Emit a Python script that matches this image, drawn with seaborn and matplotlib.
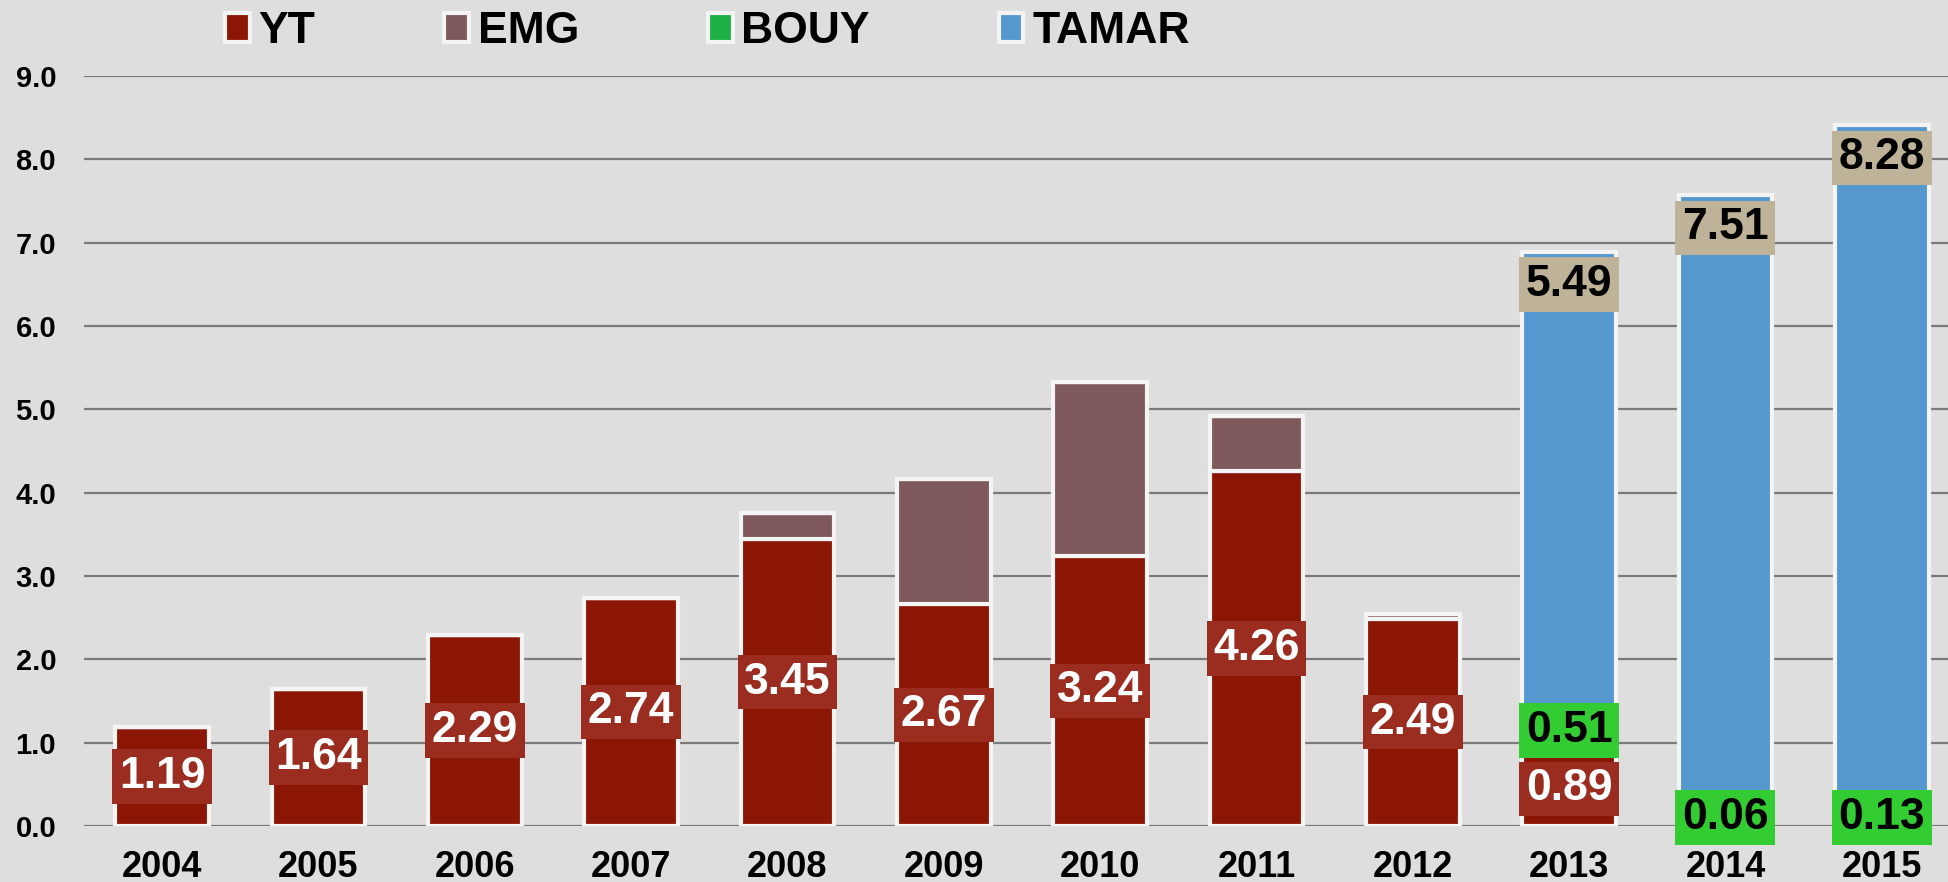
import numpy as np
import pandas as pd
import matplotlib
matplotlib.use("Agg")
import matplotlib.pyplot as plt
import seaborn as sns
from matplotlib.patches import Patch

# values
years = ["2004", "2005", "2006", "2007", "2008", "2009", "2010", "2011", "2012", "2013", "2014", "2015"]
yt = [1.19, 1.64, 2.29, 2.74, 3.45, 2.67, 3.24, 4.26, 2.49, 0.89, 0.0, 0.0]
emg = [0.0, 0.0, 0.0, 0.0, 0.31, 1.49, 2.09, 0.66, 0.05, 0.0, 0.0, 0.0]
bouy = [0.0, 0.0, 0.0, 0.0, 0.0, 0.0, 0.0, 0.0, 0.0, 0.51, 0.06, 0.13]
tamar = [0.0, 0.0, 0.0, 0.0, 0.0, 0.0, 0.0, 0.0, 0.0, 5.49, 7.51, 8.28]
series = ["YT", "EMG", "BOUY", "TAMAR"]
y_ticks = [0, 1, 2, 3, 4, 5, 6, 7, 8, 9]

colors = {"YT": "#8C1604", "EMG": "#7E585A", "BOUY": "#1DB043", "TAMAR": "#5597CF"}
label_box = {"YT": "#9B2C20", "BOUY": "#33CC33", "TAMAR": "#BEB399"}
label_txt = {"YT": "white", "BOUY": "black", "TAMAR": "black"}

df = pd.DataFrame({"year": years, "YT": yt, "EMG": emg, "BOUY": bouy, "TAMAR": tamar})

sns.set_style("white")
plt.rcParams["font.family"] = ["Liberation Sans", "DejaVu Sans"]
plt.rcParams["font.weight"] = "bold"
plt.rcParams["text.color"] = "black"
plt.rcParams["xtick.color"] = "black"
plt.rcParams["ytick.color"] = "black"

fig = plt.figure(figsize=(19.49, 8.82), dpi=100)
fig.patch.set_facecolor("#DEDEDE")
ax = fig.add_axes([0.0431, 0.0635, 0.9569, 0.8503])
ax.set_facecolor("#DEDEDE")

bottom = np.zeros(len(years))
for s in series:
    sns.barplot(data=df, x="year", y=s, bottom=bottom, color=colors[s], width=0.6,
                edgecolor="#F4F4F4", linewidth=3, saturation=1, ax=ax, zorder=3)
    bottom = bottom + df[s].values

# grid lines
for t in y_ticks:
    ax.axhline(t, color="#7A7A7A", lw=1.6, zorder=1)

# value labels
base = np.zeros(len(years))
for s in series:
    vals = df[s].values
    for i, v in enumerate(vals):
        if v <= 0 or s == "EMG":
            continue
        if s == "TAMAR":
            ypos = base[i] + v - 0.39
        elif s == "BOUY":
            ypos = max(base[i] + v / 2, 0.1)
        else:
            ypos = base[i] + v / 2
        ax.text(i, ypos, f"{v:.2f}", ha="center", va="center", fontsize=32,
                fontweight="bold", color=label_txt[s], zorder=5,
                bbox=dict(boxstyle="square,pad=0.15", fc=label_box[s], ec="none"))
    base = base + vals

ax.set_ylim(0, 9)
ax.set_xlim(-0.5, 11.43)
ax.set_yticks(y_ticks)
ax.set_yticklabels([f"{t:.1f}" for t in y_ticks])
ax.tick_params(axis="y", length=0, pad=20, labelsize=21, labelcolor="black")
ax.tick_params(axis="x", length=0, pad=17, labelsize=26, labelcolor="black")
for lab in ax.get_xticklabels() + ax.get_yticklabels():
    lab.set_fontweight("bold")
ax.set_xlabel("")
ax.set_ylabel("")
for sp in ax.spines.values():
    sp.set_visible(False)

handles = [Patch(facecolor=colors[s], edgecolor="#F4F4F4", linewidth=3, label=s) for s in series]
leg = fig.legend(handles=handles, loc="center", bbox_to_anchor=(0.363, 0.964), ncol=4,
                 frameon=False, handlelength=0.55, handleheight=0.6,
                 handletextpad=0.2, columnspacing=2.9,
                 prop={"weight": "bold", "size": 32})
for t in leg.get_texts():
    t.set_color("black")

fig.savefig("out.png", dpi=100, facecolor=fig.get_facecolor())
